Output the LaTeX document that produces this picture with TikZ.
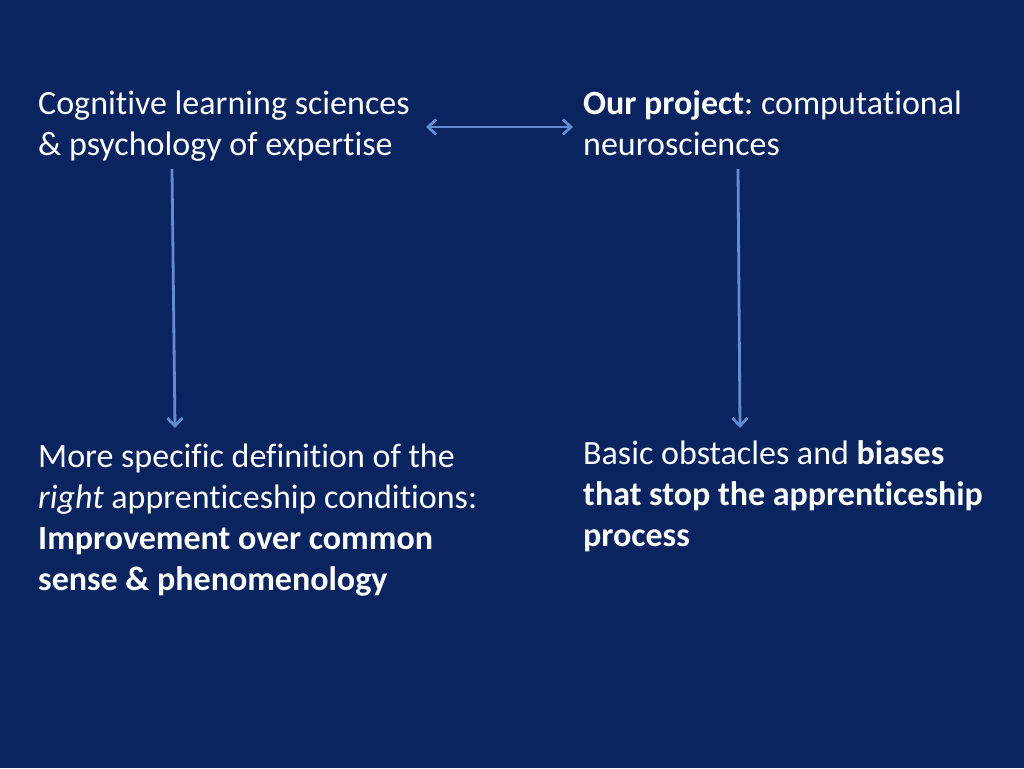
\documentclass[tikz,border=0pt]{standalone}
\usepackage{fontspec}
\setmainfont[Ligatures=NoCommon]{Carlito}
\usetikzlibrary{arrows.meta}
\definecolor{bg}{RGB}{10,36,96}
\definecolor{arrowc}{RGB}{100,140,205}
\frenchspacing
\begin{document}
\begin{tikzpicture}[x=1pt,y=-1pt,
  txt/.style={text=white,anchor=base west,inner sep=0pt,align=left,font=\fontsize{34}{41}\selectfont},
  arr/.style={draw=arrowc,line width=2.8pt,-{Straight Barb[length=8pt,width=15pt]}},
  darr/.style={draw=arrowc,line width=2.8pt,{Straight Barb[length=8pt,width=15pt]}-{Straight Barb[length=8pt,width=15pt]}}]
\fill[bg] (0,0) rectangle (1024,768);
\useasboundingbox (0,0) rectangle (1024,768);
\node[txt] (cog) at (38,155) {Cognitive learning sciences\\\& psychology of expertise};
\node[txt] (proj) at (583,155) {\textbf{Our project}: computational\\neurosciences};
\node[txt] (spec) at (38,590) {More specific definition of the\\\textit{right} apprenticeship conditions:\\\textbf{Improvement over common}\\\textbf{sense \& phenomenology}};
\node[txt] (obst) at (583,546) {Basic obstacles and \textbf{biases}\\\textbf{that stop the apprenticeship}\\\textbf{process}};
\coordinate (d1) at (426,127);
\coordinate (d2) at (573,127);
\coordinate (l1) at (172,169);
\coordinate (l2) at (175,428);
\coordinate (r1) at (738,169);
\coordinate (r2) at (740,428);
\draw[darr] (d1) -- (d2);
\draw[arr] (l1) -- (l2);
\draw[arr] (r1) -- (r2);
\end{tikzpicture}
\end{document}
